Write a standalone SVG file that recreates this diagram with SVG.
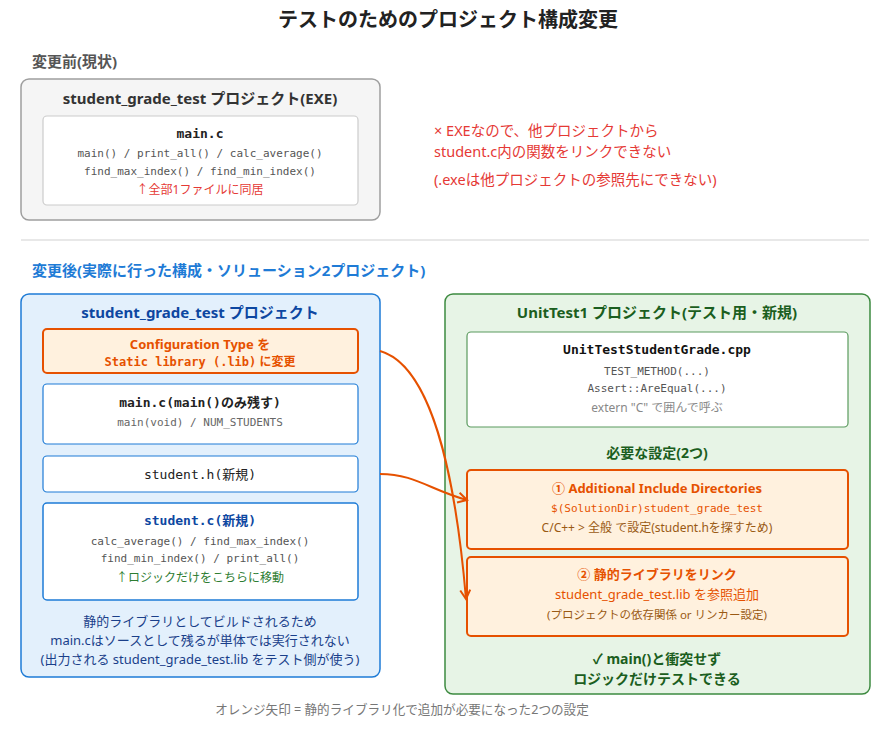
<svg xmlns="http://www.w3.org/2000/svg" width="896" height="733" viewBox="0 0 896 733">
<style>
text{font-family:"Noto Sans","Noto Sans CJK JP",sans-serif;text-anchor:middle}
.mono{font-family:"DejaVu Sans Mono","Noto Sans CJK JP",monospace}
.b{font-weight:bold}
.org{fill:#fff1de;stroke:#e65100;stroke-width:2}
.arrow{fill:none;stroke:#e65100;stroke-width:2}
</style>
<defs>
<marker id="ah" viewBox="0 0 12 12" refX="10" refY="6" markerWidth="12" markerHeight="12" markerUnits="userSpaceOnUse" orient="auto">
<path d="M1,1 L10,6 L1,11" fill="none" stroke="#e65100" stroke-width="2"/>
</marker>
</defs>
<rect width="896" height="733" fill="#fff"/>
<text x="448" y="27" font-size="20" class="b" fill="#222">テストのためのプロジェクト構成変更</text>

<text x="32" y="67" font-size="15" class="b" fill="#555" style="text-anchor:start">変更前(現状)</text>
<g id="before">
<rect x="21" y="79" width="359" height="141" rx="8" fill="#f5f5f5" stroke="#9e9e9e" stroke-width="1.5"/>
<text x="200" y="104" font-size="15" class="b" fill="#333">student_grade_test プロジェクト(EXE)</text>
<g id="before-main">
<rect x="43" y="116" width="315" height="89" rx="4" fill="#fff" stroke="#ccc" stroke-width="1.2"/>
<text x="200" y="138" font-size="13" class="mono b" fill="#222">main.c</text>
<text x="200" y="157" font-size="11" class="mono" fill="#555">main() / print_all() / calc_average()</text>
<text x="200" y="175" font-size="11" class="mono" fill="#555">find_max_index() / find_min_index()</text>
<text x="200" y="194" font-size="12" fill="#e53935">↑全部1ファイルに同居</text>
</g>
</g>
<g id="note-exe" fill="#e53935" font-size="14.5">
<text x="434" y="136" style="text-anchor:start">× EXEなので、他プロジェクトから</text>
<text x="434" y="157" style="text-anchor:start">student.c内の関数をリンクできない</text>
<text x="434" y="185" style="text-anchor:start">(.exeは他プロジェクトの参照先にできない)</text>
</g>
<line x1="21" y1="240" x2="869" y2="240" stroke="#e0e0e0" stroke-width="1.5"/>

<text x="32" y="276" font-size="15" class="b" fill="#1e7bd6" style="text-anchor:start">変更後(実際に行った構成・ソリューション2プロジェクト)</text>

<g id="lib-project">
<rect x="21" y="294" width="359" height="383" rx="8" fill="#e3f0fc" stroke="#1e7bd6" stroke-width="1.5"/>
<text x="200" y="318" font-size="15" class="b" fill="#0d47a1">student_grade_test プロジェクト</text>
<g id="config-type">
<rect x="43" y="329" width="315" height="44" rx="4" class="org"/>
<text x="200" y="349" font-size="13" class="b" fill="#e65100">Configuration Type を</text>
<text x="200" y="366" font-size="12" class="b" fill="#e65100"><tspan class="mono">Static library (.lib)</tspan> に変更</text>
</g>
<g id="main-c">
<rect x="43" y="384" width="315" height="60" rx="4" fill="#fff" stroke="#1e7bd6" stroke-width="1.2"/>
<text x="200" y="407" font-size="13" class="mono b" fill="#222">main.c(main()のみ残す)</text>
<text x="200" y="426" font-size="11" class="mono" fill="#666">main(void) / NUM_STUDENTS</text>
</g>
<g id="student-h">
<rect x="43" y="456" width="315" height="36" rx="4" fill="#fff" stroke="#1e7bd6" stroke-width="1.2"/>
<text x="200" y="479" font-size="13" class="mono" fill="#222">student.h(新規)</text>
</g>
<g id="student-c">
<rect x="43" y="503" width="315" height="97" rx="4" fill="#fff" stroke="#1e7bd6" stroke-width="1.5"/>
<text x="200" y="525" font-size="13" class="mono b" fill="#0d47a1">student.c(新規)</text>
<text x="200" y="545" font-size="11" class="mono" fill="#555">calc_average() / find_max_index()</text>
<text x="200" y="562" font-size="11" class="mono" fill="#555">find_min_index() / print_all()</text>
<text x="200" y="582" font-size="12" fill="#2e7d32">↑ロジックだけをこちらに移動</text>
</g>
<g fill="#1a3f8a" font-size="13">
<text x="200" y="626">静的ライブラリとしてビルドされるため</text>
<text x="200" y="645">main.cはソースとして残るが単体では実行されない</text>
<text x="200" y="664">(出力される student_grade_test.lib をテスト側が使う)</text>
</g>
</g>

<g id="test-project">
<rect x="445" y="294" width="425" height="400" rx="8" fill="#e7f4e6" stroke="#3d8a40" stroke-width="1.5"/>
<text x="657" y="318" font-size="15" class="b" fill="#1b5e20">UnitTest1 プロジェクト(テスト用・新規)</text>
<g id="test-cpp">
<rect x="467" y="332" width="381" height="95" rx="4" fill="#fff" stroke="#5a9a5e" stroke-width="1.2"/>
<text x="657" y="354" font-size="13" class="mono b" fill="#111">UnitTestStudentGrade.cpp</text>
<text x="657" y="375" font-size="11" class="mono" fill="#555">TEST_METHOD(...)</text>
<text x="657" y="392" font-size="11" class="mono" fill="#555">Assert::AreEqual(...)</text>
<text x="657" y="412" font-size="12" fill="#888">extern "C" で囲んで呼ぶ</text>
</g>
<text x="657" y="458" font-size="14" class="b" fill="#1b5e20">必要な設定(2つ)</text>
<g id="setting-1">
<rect x="467" y="470" width="381" height="79" rx="4" class="org"/>
<text x="657" y="493" font-size="13" class="b" fill="#e65100">① Additional Include Directories</text>
<text x="657" y="512" font-size="11" class="mono" fill="#e65100">$(SolutionDir)student_grade_test</text>
<text x="657" y="532" font-size="12" fill="#9a5a14">C/C++ &gt; 全般 で設定(student.hを探すため)</text>
</g>
<g id="setting-2">
<rect x="467" y="557" width="381" height="79" rx="4" class="org"/>
<text x="657" y="579" font-size="13" class="b" fill="#e65100">② 静的ライブラリをリンク</text>
<text x="657" y="599" font-size="13" fill="#e65100">student_grade_test.lib を参照追加</text>
<text x="657" y="619" font-size="11.5" fill="#9a5a14">(プロジェクトの依存関係 or リンカー設定)</text>
</g>
<text x="657" y="664" font-size="14" class="b" fill="#1b5e20">✓ main()と衝突せず</text>
<text x="657" y="684" font-size="14" class="b" fill="#1b5e20">ロジックだけテストできる</text>
</g>

<g id="connectors">
<path class="arrow" d="M380,351 C430,365 455,470 466,599" marker-end="url(#ah)"/>
<path class="arrow" d="M380,474 C415,474 430,490 467,500" marker-end="url(#ah)"/>
</g>

<text x="402" y="714" font-size="12.6" fill="#777">オレンジ矢印 = 静的ライブラリ化で追加が必要になった2つの設定</text>
</svg>
